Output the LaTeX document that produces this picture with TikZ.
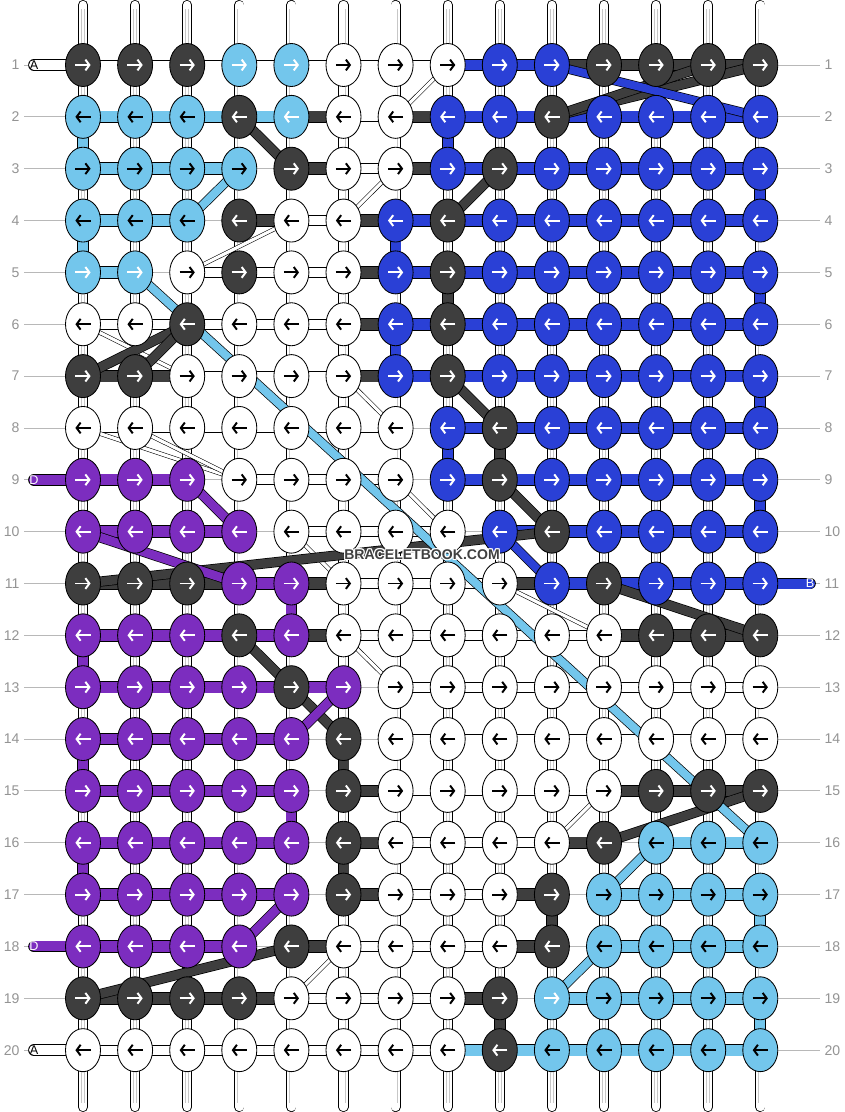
\documentclass[tikz,border=0pt]{standalone}
\usepackage{fontspec}
\setmainfont{Liberation Sans}
\usetikzlibrary{shapes.geometric,arrows.meta,calc,positioning}

\definecolor{knotdark}{HTML}{3E3E3E}
\definecolor{knotlight}{HTML}{73C6EC}
\definecolor{knotblue}{HTML}{2A40D6}
\definecolor{knotpurple}{HTML}{7C2DBF}

\pgfdeclarelayer{paper}
\pgfdeclarelayer{guides}
\pgfdeclarelayer{strands}
\pgfdeclarelayer{links}
\pgfdeclarelayer{diags}
\pgfdeclarelayer{marks}
\pgfsetlayers{paper,guides,strands,links,diags,main,marks}

\begin{document}
\begin{tikzpicture}[x=0.025cm, y=-0.025cm,
		knot node/.style={ellipse, draw, line width=0.6pt, inner sep=0pt, minimum width=0.875cm, minimum height=1.075cm},
		knot D/.style={fill=knotdark}, knot B/.style={fill=knotblue}, knot P/.style={fill=knotpurple},
		knot L/.style={fill=knotlight}, knot l/.style={fill=knotlight}, knot W/.style={fill=white},
		knot arrow/.style={line width=1.4pt, -{Straight Barb[length=0.1cm, width=0.27cm]}},
		arrow D/.style={white}, arrow B/.style={white}, arrow P/.style={white}, arrow l/.style={white},
		arrow L/.style={black}, arrow W/.style={black},
		link W/.style={line width=0.6pt, double=white, double distance=0.225cm},
		link D/.style={line width=0.6pt, double=knotdark, double distance=0.27cm},
		link B/.style={line width=0.6pt, double=knotblue, double distance=0.27cm},
		link P/.style={line width=0.6pt, double=knotpurple, double distance=0.27cm},
		link L/.style={line width=0.6pt, double=knotlight, double distance=0.27cm},
		link N/.style={draw=none},
		diag D/.style={line width=0.5pt, double=knotdark, double distance=0.22cm},
		diag B/.style={line width=0.5pt, double=knotblue, double distance=0.2cm},
		diag P/.style={line width=0.5pt, double=knotpurple, double distance=0.22cm},
		diag L/.style={line width=0.5pt, double=knotlight, double distance=0.2cm},
		diag W/.style={line width=0.4pt, double=white, double distance=0.08cm},
		tag W/.style={link W, double distance=0.25cm, line cap=round}, tag P/.style={link P, double distance=0.25cm, line cap=round},
		tag B/.style={link B, double distance=0.25cm, line cap=round},
		strand/.style={draw, line width=0.6pt, double=white, double distance=0.21cm, line cap=round},
		strand core/.style={draw=black!22, line width=0.1cm},
		strand mid/.style={draw=white, line width=0.06cm},
		guide line/.style={draw=black!28, line width=0.6pt},
		row label/.style={text=black!42, font=\fontsize{10}{12}\selectfont, inner sep=3pt},
		tag letter/.style={font=\fontsize{9}{10}\selectfont, inner sep=0pt},
		mark text/.style={font=\bfseries\fontsize{10}{11}\selectfont, inner sep=0pt}]

	\begin{pgfonlayer}{paper}
		\fill[white] (0,0) rectangle (844,1112);
	\end{pgfonlayer}
	\useasboundingbox (0,0) rectangle (844,1112);

	% knots, row by row
	\foreach \r/\row in {
		1/{D,D,D,l,l,W,W,W,B,B,D,D,D,D},
		2/{L,L,L,D,l,W,W,B,B,D,B,B,B,B},
		3/{L,L,L,L,D,W,W,B,D,B,B,B,B,B},
		4/{L,L,L,D,W,W,B,D,B,B,B,B,B,B},
		5/{l,l,W,D,W,W,B,D,B,B,B,B,B,B},
		6/{W,W,D,W,W,W,B,D,B,B,B,B,B,B},
		7/{D,D,W,W,W,W,B,D,B,B,B,B,B,B},
		8/{W,W,W,W,W,W,W,B,D,B,B,B,B,B},
		9/{P,P,P,W,W,W,W,B,D,B,B,B,B,B},
		10/{P,P,P,P,W,W,W,W,B,D,B,B,B,B},
		11/{D,D,D,P,P,W,W,W,W,B,D,B,B,B},
		12/{P,P,P,D,P,W,W,W,W,W,W,D,D,D},
		13/{P,P,P,P,D,P,W,W,W,W,W,W,W,W},
		14/{P,P,P,P,P,D,W,W,W,W,W,W,W,W},
		15/{P,P,P,P,P,D,W,W,W,W,W,D,D,D},
		16/{P,P,P,P,P,D,W,W,W,W,D,L,L,L},
		17/{P,P,P,P,P,D,W,W,W,D,L,L,L,L},
		18/{P,P,P,P,D,W,W,W,W,D,L,L,L,L},
		19/{D,D,D,D,W,W,W,W,D,l,L,L,L,L},
		20/{W,W,W,W,W,W,W,W,D,L,L,L,L,L}} {
		\ifodd\r \def\dir{1}\else\def\dir{-1}\fi
		\pgfmathsetmacro\ax{0.19*\dir}
		\foreach \k [count=\c] in \row {
			\node[knot node, knot \k] (k-\r-\c) at ({83+(\c-1)*52.1},{65+(\r-1)*51.85}) {};
			\draw[knot arrow, arrow \k] ([xshift=-\ax cm]k-\r-\c.center) -- ([xshift=\ax cm]k-\r-\c.center);
		}
	}

	% row numbers and guide lines
	\foreach \r in {1,...,20} {
		\node[row label, anchor=east] (ll-\r) at (24,{65+(\r-1)*51.85}) {\r};
		\node[row label, anchor=west] (rl-\r) at (820,{65+(\r-1)*51.85}) {\r};
		\begin{pgfonlayer}{guides}
			\draw[guide line] (ll-\r) -- (rl-\r);
		\end{pgfonlayer}
	}

	% vertical strands
	\begin{pgfonlayer}{strands}
		\foreach \c in {1,...,14} {
			\coordinate (top-\c) at ({83+(\c-1)*52.1},5);
			\coordinate (bot-\c) at ({83+(\c-1)*52.1},1107);
			\draw[strand] (top-\c) -- (bot-\c);
			\draw[strand core] ([yshift=-0.1cm]top-\c) -- ([yshift=0.1cm]bot-\c);
			\draw[strand mid] ([yshift=-0.1cm]top-\c) -- ([yshift=0.1cm]bot-\c);
		}
	\end{pgfonlayer}

	% horizontal links between knots
	\begin{pgfonlayer}{links}
		\foreach \r/\row in {
			1/{W,W,W,W,W,W,W,B,B,D,D,D,D},
			2/{L,L,L,L,D,W,D,B,B,B,B,B,B},
			3/{L,L,L,N,D,W,D,B,B,B,B,B,B},
			4/{L,L,N,D,W,D,B,B,B,B,B,B,B},
			5/{L,N,W,W,W,D,B,B,B,B,B,B,B},
			6/{W,W,W,W,W,D,B,B,B,B,B,B,B},
			7/{D,D,W,W,W,D,B,B,B,B,B,B,B},
			8/{W,W,W,W,W,W,N,B,B,B,B,B,B},
			9/{P,P,N,W,W,W,N,B,B,B,B,B,B},
			10/{P,P,P,N,W,W,W,N,B,B,B,B,B},
			11/{D,D,D,P,D,W,W,W,D,B,B,B,B},
			12/{P,P,P,P,D,W,W,W,W,W,D,D,D},
			13/{P,P,P,P,P,N,W,W,W,W,W,W,W},
			14/{P,P,P,P,N,N,W,W,W,W,W,W,W},
			15/{P,P,P,P,N,D,W,W,W,W,D,D,D},
			16/{P,P,P,P,N,D,W,W,W,D,N,L,L},
			17/{P,P,P,P,N,D,W,W,D,N,L,L,L},
			18/{P,P,P,N,D,W,W,W,D,N,L,L,L},
			19/{D,D,D,D,W,W,W,D,N,L,L,L,L},
			20/{W,W,W,W,W,W,W,L,L,L,L,L,L}} {
			\foreach \l [count=\c] in \row {
				\pgfmathtruncatemacro\n{\c+1}
				\path (k-\r-\c.center) edge[link \l] (k-\r-\n.center);
			}
		}
		% turns of the working strings
		\foreach \r/\c/\l in {2/1/L, 4/1/L, 2/8/B, 4/7/B, 6/7/B, 8/8/B, 3/14/B, 5/14/B, 7/14/B, 9/14/B,
				5/8/D, 8/9/D, 11/5/P, 12/1/P, 14/1/P, 16/1/P, 15/5/P, 14/6/D, 16/6/D, 17/10/D,
				19/9/D, 17/14/L, 19/14/L} {
			\pgfmathtruncatemacro\n{\r+1}
			\path (k-\r-\c.center) edge[link \l, double distance=0.25cm] (k-\n-\c.center);
		}
		% loose ends
		\coordinate (tag-1) at (34,65);
		\coordinate (tag-9) at (34,{65+8*51.85});
		\coordinate (tag-18) at (34,{65+17*51.85});
		\coordinate (tag-20) at (34,{65+19*51.85});
		\coordinate (tag-11) at (810,{65+10*51.85});
		\path (tag-1) edge[tag W] (k-1-1.center);
		\path (tag-9) edge[tag P] (k-9-1.center);
		\path (tag-18) edge[tag P] (k-18-1.center);
		\path (tag-20) edge[tag W] (k-20-1.center);
		\path (tag-11) edge[tag B] (k-11-14.center);
	\end{pgfonlayer}
	\node[tag letter] at (tag-1) {A};
	\node[tag letter, white] at (tag-9) {D};
	\node[tag letter, white] at (tag-18) {D};
	\node[tag letter] at (tag-20) {A};
	\node[tag letter, white] at (tag-11) {B};

	% strings crossing between rows
	\begin{pgfonlayer}{diags}
		\foreach \a/\b in {1-8/2-7, 3-7/4-6, 4-5/5-3, 6-1/7-3, 8-1/9-4, 8-2/9-4, 7-6/8-7, 9-7/10-8,
				10-5/11-6, 12-6/13-7, 11-9/12-11, 15-11/16-10, 18-6/19-5}
			\path (k-\a.center) edge[diag W] (k-\b.center);
		\foreach \a/\b in {2-10/1-14, 2-10/1-13, 2-4/3-5, 3-9/4-8, 6-3/7-1, 6-3/7-2, 7-8/8-9, 9-9/10-10,
				11-1/10-10, 11-11/12-14, 12-4/13-5, 13-5/14-6, 16-11/15-14, 19-1/18-5}
			\path (k-\a.center) edge[diag D] (k-\b.center);
		\foreach \a/\b in {3-4/4-3, 5-2/16-14, 16-12/17-11, 18-11/19-10}
			\path (k-\a.center) edge[diag L] (k-\b.center);
		\foreach \a/\b in {9-3/10-4, 10-1/11-4, 13-6/14-5, 17-5/18-4}
			\path (k-\a.center) edge[diag P] (k-\b.center);
		\foreach \a/\b in {1-10/2-14, 10-9/11-10}
			\path (k-\a.center) edge[diag B] (k-\b.center);
	\end{pgfonlayer}

	% site mark with a light rim
	\begin{pgfonlayer}{marks}
		\foreach \dx/\dy in {-1/0, 1/0, 0/-1, 0/1, -1/-1, 1/1, -1/1, 1/-1}
			\node[mark text, text=white] at ({422+\dx},{555+\dy}) {BRACELETBOOK.COM};
		\node[mark text, text=black!75] (mark) at (422,555) {BRACELETBOOK.COM};
	\end{pgfonlayer}
\end{tikzpicture}
\end{document}
